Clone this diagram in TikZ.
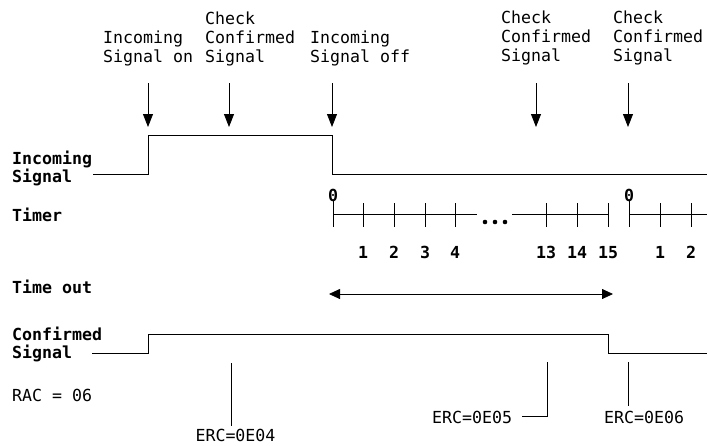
\documentclass[tikz,border=0pt]{standalone}
\usepackage{fontspec}
\setmainfont{DejaVu Sans Mono}
\usetikzlibrary{arrows.meta}
\tikzset{
  txt/.style={inner sep=0pt, font=\fontsize{16.6}{19}\selectfont, align=left},
  bld/.style={txt, font=\fontsize{16.6}{18.5}\selectfont\bfseries},
  wave/.style={line width=0.9pt},
  evarrow/.style={line width=0.8pt, -{Triangle[width=10pt,length=13pt]}},
  tick/.style={line width=0.8pt},
  num/.style={bld, anchor=base},
}
\begin{document}
\begin{tikzpicture}[x=1pt,y=-1pt]
\useasboundingbox (0,0) rectangle (707,445);

% top event labels
\node[txt, anchor=north west] (l1) at (103,30.5) {Incoming\\Signal on};
\node[txt, anchor=north west] (l2) at (205,11.5) {Check\\Confirmed\\Signal};
\node[txt, anchor=north west] (l3) at (310,30.5) {Incoming\\Signal off};
\node[txt, anchor=north west] (l4) at (501,11) {Check\\Confirmed\\Signal};
\node[txt, anchor=north west] (l5) at (613,11) {Check\\Confirmed\\Signal};

% event arrows
\foreach \x/\n in {148/a1,229/a2,332/a3,536/a4,628/a5}{
  \coordinate (\n s) at (\x,83);
  \coordinate (\n e) at (\x,127);
  \draw[evarrow] (\n s) -- (\n e);
}

% left labels
\node[bld, anchor=north west] (inc) at (12,150.5) {Incoming\\Signal};
\node[bld, anchor=base west] (tim) at (12,221) {Timer};
\node[bld, anchor=base west] (tout) at (12,293) {Time out};
\node[bld, anchor=north west] (conf) at (12,326.5) {Confirmed\\Signal};
\node[txt, anchor=base west] (rac) at (12,401) {RAC = 06};

% incoming signal waveform
\draw[wave] (93,174) -- (148,174) -- (148,135) -- (332,135) -- (332,174) -- (707,174);

% confirmed signal waveform
\draw[wave] (92,353) -- (148,353) -- (148,334) -- (608,334) -- (608,353) -- (707,353);

% timer
\draw[tick] (333,214) -- (477,214);
\draw[tick] (512,214) -- (608,214);
\draw[tick] (629,214) -- (707,214);
\draw[tick] (333,201) -- (333,227);
\draw[tick] (629,201) -- (629,227);
\foreach \x in {363,394,425,455,546,577,608,660,691}{
  \draw[tick] (\x,203) -- (\x,227);
}
\foreach \x in {485,495,505}{
  \fill (\x,222) circle (2.3pt);
}
\node[num] (z1) at (333,201) {0};
\node[num] (z2) at (629,201) {0};
\foreach \x/\t in {363/1,394/2,425/3,455/4,546/13,577/14,608/15,660/1,691/2}{
  \node[num] at (\x,258) {\t};
}

% time out arrow
\coordinate (ts) at (329,294);
\coordinate (te) at (613,294);
\draw[line width=0.8pt, {Triangle[width=10pt,length=11pt]}-{Triangle[width=10pt,length=11pt]}] (ts) -- (te);

% ERC labels
\node[txt, anchor=base] (e4) at (235.5,441) {ERC=0E04};
\node[txt, anchor=base west] (e5) at (432,423) {ERC=0E05};
\node[txt, anchor=base west] (e6) at (604,423) {ERC=0E06};
\draw[wave] (231,363) -- (231,426);
\draw[wave] (547,362) -- (547,416) -- (522,416);
\draw[wave] (628,362) -- (628,406);
\end{tikzpicture}
\end{document}
